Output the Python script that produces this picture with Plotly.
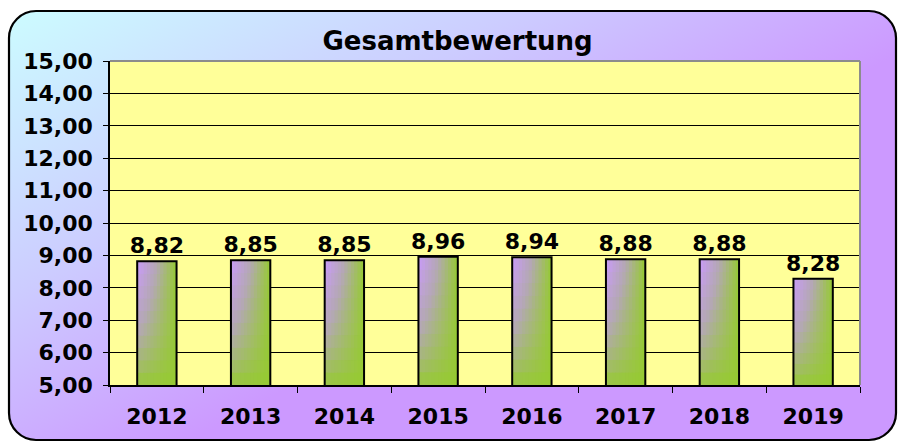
import base64
import plotly.graph_objects as go

# ---- data ----
years = ["2012", "2013", "2014", "2015", "2016", "2017", "2018", "2019"]
values = [8.82, 8.85, 8.85, 8.96, 8.94, 8.88, 8.88, 8.28]
title_text = "Gesamtbewertung"

W, H = 899, 443
ML, MR, MT, MB = 110, 39, 61, 58
PW, PH = W - ML - MR, H - MT - MB

FONT = "DejaVu Sans"
BAR_W = 0.42
Y_MIN, Y_MAX = 5, 15

# background: rounded frame with diagonal cyan->purple gradient
svg = f'''<svg xmlns="http://www.w3.org/2000/svg" width="{W}" height="{H}" viewBox="0 0 {W} {H}">
<defs><linearGradient id="g" gradientUnits="userSpaceOnUse" x1="0" y1="0" x2="230" y2="420">
<stop offset="0" stop-color="#CCFFFF"/><stop offset="0.55" stop-color="#CCCCFF"/><stop offset="1" stop-color="#CC99FF"/>
</linearGradient></defs>
<rect x="0" y="0" width="{W}" height="{H}" fill="#FFFFFF"/>
<rect x="9" y="11" width="887" height="429" rx="27" ry="27" fill="url(#g)" stroke="#000000" stroke-width="2.2"/>
</svg>'''
bg_src = "data:image/svg+xml;base64," + base64.b64encode(svg.encode()).decode()

fig = go.Figure()

# 2-D gradient inside each bar (purple top-left -> green right/bottom),
# drawn as small overlaid bar cells whose sizes are fractions of each bar
stops = [(0.0, (202, 155, 250)), (0.5, (180, 168, 180)), (1.0, (150, 202, 50))]


def interp(t):
    t = min(max(t, 0.0), 1.0)
    for (t0, c0), (t1, c1) in zip(stops[:-1], stops[1:]):
        if t0 <= t <= t1:
            f = (t - t0) / (t1 - t0)
            return "rgb(%d,%d,%d)" % tuple(round(a + (b - a) * f) for a, b in zip(c0, c1))
    return "rgb(%d,%d,%d)" % stops[-1][1]


NX, NY = 12, 10
sw = BAR_W / NX
for j in range(NY):
    h = (j + 0.5) / NY
    frac_h = 1.0 / NY * (1.6 if j < NY - 1 else 1.0)
    bases = [Y_MIN + (v - Y_MIN) * j / NY for v in values]
    heights = [(v - Y_MIN) * frac_h for v in values]
    for k in range(NX):
        u = (k + 0.5) / NX
        t = 1 - (1 - u) * h ** 0.8
        fig.add_trace(go.Bar(
            x=years, y=heights, base=bases,
            width=sw * (1.8 if k < NX - 1 else 1.0), offset=-BAR_W / 2 + k * sw,
            marker=dict(color=interp(t), line=dict(width=0)),
            hoverinfo="skip", showlegend=False,
        ))

# outline + value labels
fig.add_trace(go.Bar(
    x=years, y=values, width=BAR_W, offset=-BAR_W / 2,
    marker=dict(color="rgba(0,0,0,0)", line=dict(color="#000000", width=2)),
    text=values, texttemplate="%{y:.2f}", textposition="outside",
    constraintext="none",
    textfont=dict(family=FONT, size=22, color="#000000", weight="bold"),
    cliponaxis=False, showlegend=False,
))

fig.update_layout(
    width=W, height=H,
    margin=dict(l=ML, r=MR, t=MT, b=MB),
    barmode="overlay",
    separators=",.",
    paper_bgcolor="#FFFFFF",
    plot_bgcolor="rgba(0,0,0,0)",
    showlegend=False,
    title=dict(text=title_text, x=0.509, xref="container", xanchor="center",
               y=1 - 41 / H, yref="container", yanchor="middle",
               font=dict(family=FONT, size=26, color="#000000", weight="bold")),
    images=[dict(source=bg_src, xref="paper", yref="paper",
                 x=-ML / PW, y=1 + MT / PH, sizex=W / PW, sizey=H / PH,
                 xanchor="left", yanchor="top", sizing="stretch", layer="below")],
    shapes=[
        dict(type="rect", xref="paper", yref="paper", x0=0, x1=1, y0=0, y1=1,
             fillcolor="#FFFF99", line=dict(width=0), layer="below"),
        dict(type="line", xref="paper", yref="paper", x0=0, x1=1, y0=1, y1=1,
             line=dict(color="#8C8C8C", width=2), layer="above"),
        dict(type="line", xref="paper", yref="paper", x0=1, x1=1, y0=0, y1=1,
             line=dict(color="#8C8C8C", width=2), layer="above"),
    ],
)

fig.update_yaxes(
    range=[Y_MIN, Y_MAX], dtick=1, tickformat=".2f",
    showgrid=True, gridcolor="#000000", gridwidth=1,
    showline=True, linecolor="#000000", linewidth=1.5,
    ticks="outside", ticklen=5, tickcolor="#000000",
    tickfont=dict(family=FONT, size=22, color="#000000", weight="bold"),
    ticklabelstandoff=6, zeroline=False,
)
fig.update_xaxes(
    type="category", showgrid=False,
    showline=True, linecolor="#000000", linewidth=1.5,
    ticks="outside", ticklen=6, tickcolor="#000000", tickson="boundaries",
    tickfont=dict(family=FONT, size=22, color="#000000", weight="bold"),
    ticklabelstandoff=11,
)

fig.write_html("out.html", config={"displayModeBar": False},
               post_script="document.body.style.margin='0';document.body.style.overflow='hidden';")
